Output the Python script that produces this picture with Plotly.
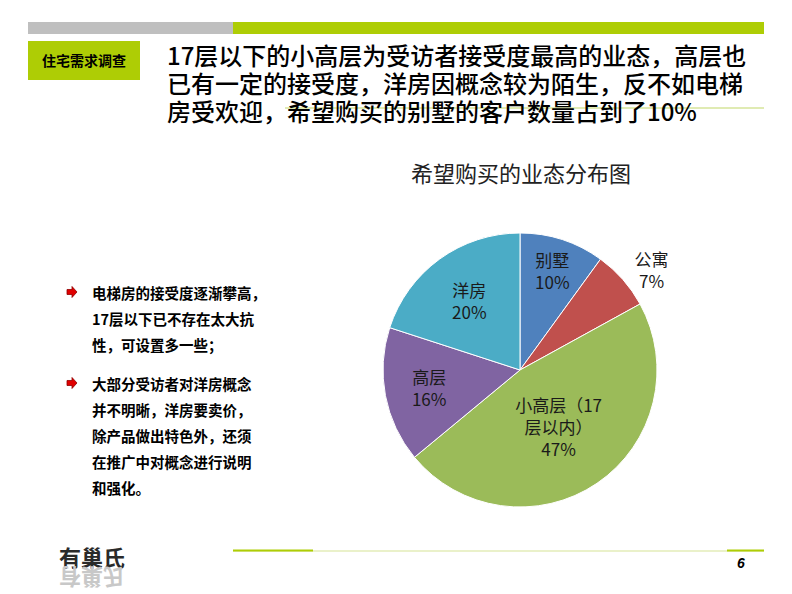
import plotly.graph_objects as go

# ---- data ----
categories = ["别墅", "公寓", "小高层（17<br>层以内）", "高层", "洋房"]
values = [10, 7, 47, 16, 20]
colors = ["#4F81BD", "#C0504D", "#9BBB59", "#8064A2", "#4BACC6"]
text_pos = ["inside", "outside", "inside", "inside", "inside"]

chart_title = "希望购买的业态分布图"
header_label = "住宅需求调查"
headline = ["17层以下的小高层为受访者接受度最高的业态，高层也",
            "已有一定的接受度，洋房因概念较为陌生，反不如电梯",
            "房受欢迎，希望购买的别墅的客户数量占到了10%"]
bullets = [
    ["电梯房的接受度逐渐攀高，", "17层以下已不存在太大抗", "性，可设置多一些；"],
    ["大部分受访者对洋房概念", "并不明晰，洋房要卖价，", "除产品做出特色外，还须",
     "在推广中对概念进行说明", "和强化。"],
]
page_no = "6"
logo = "有巢氏"

W, H = 792, 594
GREEN = "#AECD05"
CJK = "Noto Sans CJK SC"

fig = go.Figure()
fig.add_trace(go.Pie(
    labels=categories, values=values, sort=False, direction="clockwise", rotation=0,
    marker=dict(colors=colors, line=dict(color="white", width=1)),
    texttemplate="%{label}<br>%{percent:.0%}",
    textposition=text_pos, insidetextorientation="horizontal",
    textfont=dict(family=CJK, size=17, color="#1A1A1A"),
    domain=dict(x=[(520 - 137) / W, (520 + 137) / W], y=[(594 - 370 - 137) / H, (594 - 370 + 137) / H]),
    showlegend=False, hoverinfo="label+percent",
))


def px(x):
    return x / W


def py(y):
    return 1 - y / H


def arrow_path(x, y):
    # small block arrow pointing right, (x, y) = left-middle in pixels
    pts = [(x, y - 2.5), (x + 5, y - 2.5), (x + 5, y - 5.5), (x + 10, y), (x + 5, y + 5.5),
           (x + 5, y + 2.5), (x, y + 2.5)]
    return "M " + " L ".join(f"{px(a):.5f},{py(b):.5f}" for a, b in pts) + " Z"


shapes = [
    dict(type="rect", xref="paper", yref="paper", x0=px(28), x1=px(233), y0=py(34), y1=py(22),
         fillcolor="#BFBFBF", line=dict(width=0)),
    dict(type="rect", xref="paper", yref="paper", x0=px(233), x1=px(764), y0=py(34), y1=py(22),
         fillcolor=GREEN, line=dict(width=0)),
    dict(type="rect", xref="paper", yref="paper", x0=px(28), x1=px(140), y0=py(80), y1=py(41),
         fillcolor=GREEN, line=dict(width=0)),
    dict(type="line", xref="paper", yref="paper", x0=px(285), x1=px(764), y0=py(108), y1=py(108),
         line=dict(color="#D6E59A", width=1.5)),
    dict(type="line", xref="paper", yref="paper", x0=px(233), x1=px(764), y0=py(551), y1=py(551),
         line=dict(color="#E3EDB8", width=1.5)),
    dict(type="line", xref="paper", yref="paper", x0=px(233), x1=px(313), y0=py(550.5), y1=py(550.5),
         line=dict(color=GREEN, width=2)),
    dict(type="line", xref="paper", yref="paper", x0=px(727), x1=px(764), y0=py(550.5), y1=py(550.5),
         line=dict(color=GREEN, width=2)),
]

ann = []
ann.append(dict(text=f"<b>{header_label}</b>", x=px(84), y=py(60), xref="paper", yref="paper",
                xanchor="center", yanchor="middle", showarrow=False,
                font=dict(family=CJK, size=14, color="black")))
for i, line in enumerate(headline):
    ann.append(dict(text=line, x=px(165), y=py(55 + 28 * i), xref="paper", yref="paper",
                    xanchor="left", yanchor="middle", showarrow=False,
                    font=dict(family=CJK, size=24, color="black", weight=500)))
ann.append(dict(text=chart_title, x=px(521), y=py(172), xref="paper", yref="paper",
                xanchor="center", yanchor="middle", showarrow=False,
                font=dict(family=CJK, size=22, color="#222222")))

y0s = [293, 384]
for b, lines in enumerate(bullets):
    shapes.append(dict(type="path", xref="paper", yref="paper", path=arrow_path(67, y0s[b] - 1),
                       fillcolor="#E00000", line=dict(color="#900000", width=0.8)))
    for j, line in enumerate(lines):
        ann.append(dict(text=f"<b>{line}</b>", x=px(90), y=py(y0s[b] - 1 + 26 * j), xref="paper", yref="paper",
                        xanchor="left", yanchor="middle", showarrow=False,
                        font=dict(family=CJK, size=14.5, color="black")))

ann.append(dict(text=f"<b><i>{page_no}</i></b>", x=px(741), y=py(563), xref="paper", yref="paper",
                xanchor="center", yanchor="middle", showarrow=False,
                font=dict(family="Liberation Sans", size=14, color="black")))
ann.append(dict(text=f"<b>{logo}</b>", x=px(92), y=py(556), xref="paper", yref="paper",
                xanchor="center", yanchor="middle", showarrow=False,
                font=dict(family=CJK, size=22, color="#2A2A2A")))
ann.append(dict(text=f"<b>{logo[::-1]}</b>", x=px(92), y=py(579), xref="paper", yref="paper",
                xanchor="center", yanchor="middle", showarrow=False, textangle=180,
                font=dict(family=CJK, size=22, color="#C8C8C8")))

fig.update_layout(width=W, height=H, margin=dict(l=0, r=0, t=0, b=0),
                  paper_bgcolor="white", plot_bgcolor="white",
                  shapes=shapes, annotations=ann)
fig.write_html("out.html")
